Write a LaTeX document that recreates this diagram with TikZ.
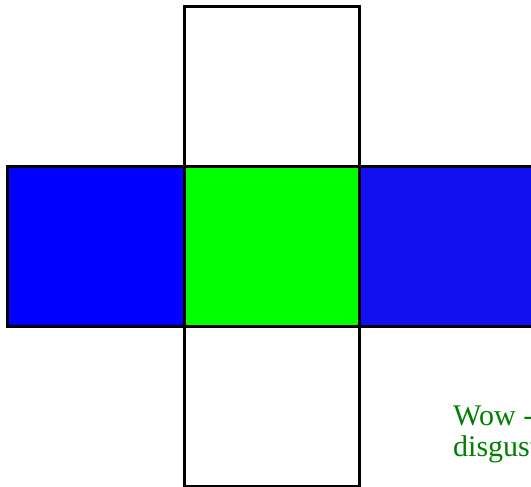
\documentclass[tikz,border=0pt]{standalone}
\usepackage{fontspec}
\setmainfont{Liberation Serif}
\definecolor{blueL}{HTML}{0000FF}
\definecolor{blueR}{HTML}{1010F0}
\definecolor{greenC}{HTML}{00FF00}
\definecolor{textG}{HTML}{008000}
\begin{document}
\begin{tikzpicture}[x=1pt,y=-1pt,
  face/.style={draw=black,line width=3pt},
  note/.style={text=textG,font=\fontsize{30}{31}\selectfont,anchor=base west,inner sep=0pt}]
\useasboundingbox (0,0) rectangle (531,487);
\clip (0,0) rectangle (531,487);
\fill[white] (0,0) rectangle (531,487);
\draw[face,fill=white] (184,7) rectangle (359,167);
\draw[face,fill=white] (184,326) rectangle (359,486);
\draw[face,fill=blueL] (7,167) rectangle (184,326);
\draw[face,fill=blueR] (359,167) rectangle (560,326);
\draw[face,fill=greenC] (184,167) rectangle (359,326);
\node[note] (txt1) at (453,425) {Wow - this is};
\node[note] (txt2) at (453,456) {disgusting};
\end{tikzpicture}
\end{document}
